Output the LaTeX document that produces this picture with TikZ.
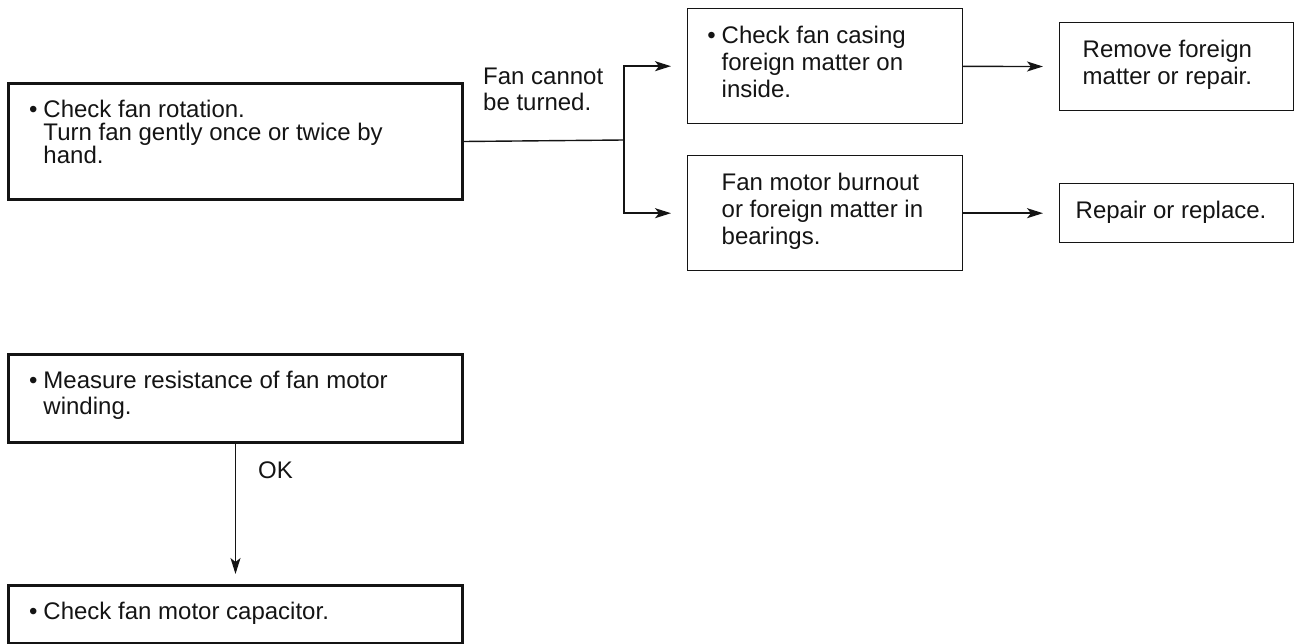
\documentclass[tikz,border=0pt]{standalone}
\usepackage{fontspec}
\setmainfont{Liberation Sans}
\usetikzlibrary{arrows.meta}
\definecolor{ink}{RGB}{20, 20, 20}
% box body: width, height, left indent, text
\newcommand{\boxbody}[4]{\parbox[c][#2pt][t]{#1pt}{\raggedright\leftskip=#3pt\lineskiplimit=-30pt\vspace*{17pt}#4}}
\newcommand{\dotitem}{\leavevmode\llap{•\hspace{6pt}}}

\begin{document}
\begin{tikzpicture}[x=1pt, y=-1pt, line cap=round,
    every node/.style={font=\fontsize{24}{27}\selectfont, text=ink},
    stepbox/.style={draw=ink, inner sep=0pt, anchor=north west},
    heavybox/.style={stepbox, line width=3pt},
    lightbox/.style={stepbox, line width=1.4pt},
    link/.style={draw=ink, line width=1.4pt},
    arr/.style={link, -{Stealth[length=16pt, width=10pt, inset=4pt]}}]

    \useasboundingbox (0, 0) rectangle (1295, 644);

    % left column
    \node[heavybox, font=\fontsize{24}{23}\selectfont] (rotation) at (7, 82)
    {\boxbody{454}{116}{35}{\dotitem Check fan rotation.\\Turn fan gently once or twice by\\hand.}};
    \node[heavybox, font=\fontsize{24}{26}\selectfont] (winding) at (7, 353)
    {\boxbody{454}{88}{35}{\dotitem Measure resistance of fan motor\\winding.}};
    \node[heavybox] (capacitor) at (7, 584)
    {\boxbody{454}{58}{35}{\dotitem Check fan motor capacitor.}};

    % right side
    \node[lightbox] (casing) at (687, 8)
    {\boxbody{275}{115}{34}{\dotitem Check fan casing\\foreign matter on\\inside.}};
    \node[lightbox] (burnout) at (687, 155)
    {\boxbody{275}{115}{34}{Fan motor burnout\\or foreign matter in\\bearings.}};
    \node[lightbox] (remove) at (1059, 22)
    {\boxbody{234}{88}{23}{Remove foreign\\matter or repair.}};
    \node[lightbox] (replace) at (1059, 183)
    {\boxbody{234}{59}{16}{Repair or replace.}};

    % labels
    \node[anchor=north west, inner sep=0pt, align=left,
        font=\fontsize{24}{26}\selectfont] (cannot) at (483, 68) {Fan cannot\\be turned.};
    \node[anchor=base west, inner sep=0pt] (ok) at (258, 478) {OK};

    % connectors
    \coordinate (split) at (624, 140);
    \draw[link] (rotation.east) -- (split);
    \draw[arr, shorten >=16pt] (split) |- (casing.west);
    \draw[arr, shorten >=16pt] (split) |- (burnout.west);
    \draw[arr, shorten >=16pt] (casing) -- (remove);
    \draw[arr, shorten >=16pt] (burnout) -- (replace);
    \draw[arr, shorten >=10pt] (winding) -- (capacitor);

\end{tikzpicture}
\end{document}
